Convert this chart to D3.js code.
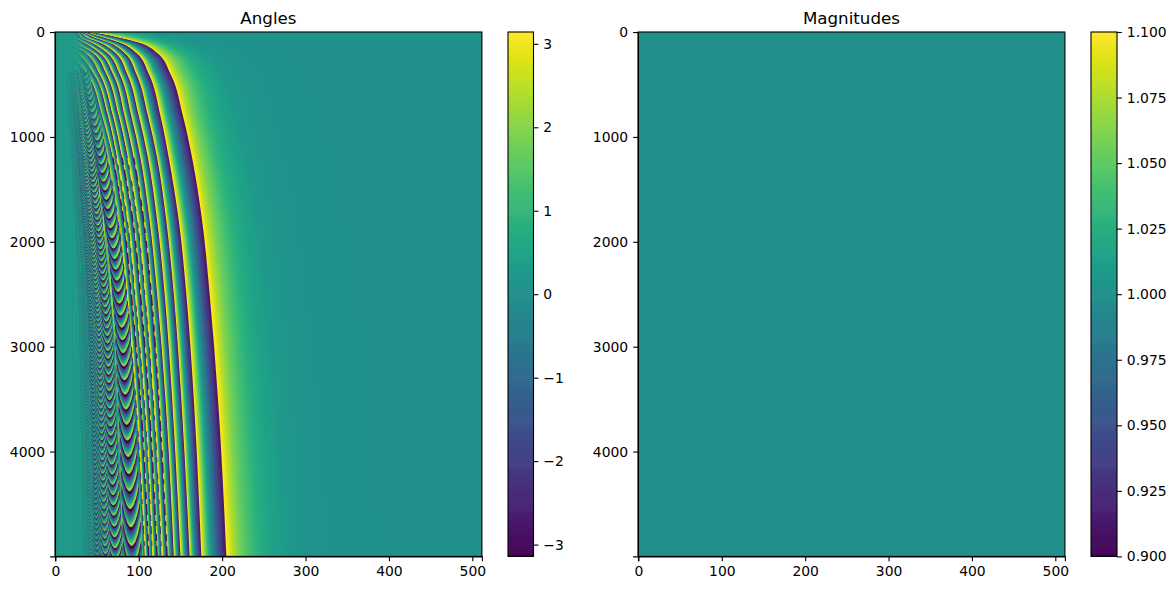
<!DOCTYPE html>
<html>
<head>
<meta charset="utf-8">
<script src="https://cdn.jsdelivr.net/npm/d3@7"></script>
<style>
  body { margin: 0; background: #fff; }
  svg, svg text, .tick text { font-family: "DejaVu Sans", sans-serif; }
  svg { display: block; }
  .tick text { font-size: 13.9px; fill: #000; }
  .tick line, .domain { stroke: #000; stroke-width: 1.1px; }
</style>
</head>
<body>
<div id="chart"></div>
<script>
// Values
const xTicks = [0, 100, 200, 300, 400, 500];
const yTicks = [0, 1000, 2000, 3000, 4000];
const angleTicks = [-3, -2, -1, 0, 1, 2, 3];
const magnitudeTicks = [0.9, 0.925, 0.95, 0.975, 1, 1.025, 1.05, 1.075, 1.1];
const magnitudeValue = 1;

// Wrap edges of the phase, column at each row, outermost fringe first
const fringeRows = [0, 20, 50, 100, 200, 400, 800, 1200, 1800, 2500, 3500, 5000];
const fringe0 = [40, 58, 75, 100, 122, 138, 153, 164, 176, 185, 195, 205];
const fringe1 = [36, 45, 57, 77, 97, 112, 126, 136, 148, 157, 166, 175];
const fringe2 = [32, 38, 46, 64, 83, 97, 111, 122, 133, 142, 151, 161];
const fringe3 = [28, 33, 37, 53, 72, 86, 100, 111, 122, 131, 140, 150];
const fringe4 = [24, 28, 30, 43, 62, 77, 91, 102, 113, 122, 132, 142];
const fringe5 = [14, 18, 22, 34, 53, 69, 83, 94, 106, 115, 124, 134];
const fringe6 = [6, 10, 15, 23, 45, 61, 76, 87, 99, 108, 118, 128];
const fringe7 = [0, 0, 8, 16, 36, 53, 69, 80, 93, 102, 112, 122];
const fringe8 = [0, 0, 0, 8, 26, 46, 63, 74, 87, 96, 107, 117];
const fringe9 = [0, 0, 0, 0, 16, 38, 56, 69, 82, 91, 102, 112];
const fringe10 = [0, 0, 0, 0, 8, 29, 50, 63, 76, 86, 97, 108];
const fringe11 = [0, 0, 0, 0, 0, 18, 43, 57, 71, 81, 92, 103];
const fringe12 = [0, 0, 0, 0, 0, 9, 36, 51, 66, 77, 88, 99];
const fringe13 = [0, 0, 0, 0, 0, 0, 28, 45, 61, 72, 84, 95];
const fringe14 = [0, 0, 0, 0, 0, 0, 18, 36, 56, 68, 80, 91];

// Where the ramp sits inside the two widest bands: yellow is narrow, purple is wide
const rampShare = [0, 0.25, 0.5, 0.75, 1];
const rampPlace = [0, 0.17, 0.38, 0.66, 1];

// Decay to the right of the outer fringe: phase level and where it is reached
const tailPhases = [3.14, 2.5, 2, 1.5, 1, 0.7, 0.4, 0.2, 0.1, 0.05, 0];
const tail25 = [44, 62, 79, 104, 126, 143, 158, 169, 181, 191, 201, 212];
const tail20 = [48, 66, 84, 108, 131, 148, 163, 174, 187, 197, 207, 218];
const tail15 = [54, 72, 90, 113, 137, 155, 170, 182, 195, 205, 215, 226];
const tail10 = [62, 80, 98, 121, 146, 165, 180, 192, 206, 216, 227, 238];
const tail07 = [70, 88, 106, 128, 154, 174, 190, 202, 216, 226, 237, 248];
const tail04 = [82, 100, 118, 139, 166, 186, 203, 215, 229, 239, 251, 262];
const tail02 = [98, 116, 134, 153, 182, 202, 220, 232, 247, 258, 270, 280];
const tail01 = [115, 133, 152, 170, 200, 220, 238, 250, 265, 276, 288, 298];
const tail005 = [135, 155, 175, 190, 222, 244, 265, 277, 292, 304, 318, 330];
const tail00 = [180, 200, 220, 240, 280, 310, 330, 345, 360, 375, 390, 400];

// Arch families in the left part: centre column, row spacing, half width
const archRows = [400, 800, 1220, 2080, 2843, 4000, 5000];
const archCols = [
  [35, 45, 54, 70, 80, 87, 92],
  [28, 35, 42, 54, 62, 67, 72],
  [23, 29, 35, 45, 52, 56, 60],
  [19, 24, 29, 38, 43, 47, 50],
  [16, 20, 24, 32, 36, 39, 42],
  [14, 17, 21, 27, 31, 33, 36]
];
const archSpacing = [
  [45, 65, 80, 100, 120, 160, 185],
  [27, 38, 47, 58, 70, 93, 107],
  [18, 26, 32, 40, 48, 64, 74],
  [13, 18, 22, 28, 34, 45, 52],
  [9, 13, 16, 20, 24, 32, 37],
  [7, 10, 12, 15, 18, 24, 28]
];
const archHalfWidth = [
  [5, 6, 7, 8, 9, 10, 11],
  [3, 4, 5, 5.5, 6, 7, 8],
  [2.5, 3, 3.5, 4, 4.5, 5, 5.5],
  [2, 2.5, 2.5, 3, 3.5, 3.5, 4],
  [1.5, 1.5, 2, 2, 2.5, 2.5, 3],
  [1, 1.5, 1.5, 1.5, 2, 2, 2]
];
// how strongly each family stands out, and how that grows along the rows
const archContrast = [1, 0.95, 0.8, 0.6, 0.35, 0.2];
const archFadeRows = [400, 900, 1500];
const archFade = [0.3, 0.7, 1];
const archTones = [0, 0.17, 0.33, 0.5, 0.67, 0.83];
const archU = [-1, -0.7, -0.4, -0.15, 0, 0.15, 0.4, 0.7, 1];
const archRise = 1.3;

// Low contrast left zone: column where each veil ends, and its opacity
const veilEdges = [
  [20, 20, 20, 20, 22, 24, 24, 22, 22, 24, 26, 28],
  [26, 26, 26, 28, 30, 32, 32, 32, 32, 36, 40, 42],
  [30, 30, 32, 34, 38, 42, 44, 48, 50, 54, 60, 64],
  [32, 34, 36, 40, 46, 52, 58, 68, 78, 84, 92, 98]
];
const veilOpacity = [1, 0.75, 0.5, 0.3];

// Fine texture at the far left, phase values of one small tile
const textureTile = [
  [0.3, 0.05, 0.5],
  [-0.05, 0.4, 0.15]
];

// Broken stripes over the inner fringes, dash lengths in pixels
const spikeDash = [7, 5, 11, 6, 5, 8];

const fringes = [fringe0, fringe1, fringe2, fringe3, fringe4, fringe5, fringe6, fringe7,
  fringe8, fringe9, fringe10, fringe11, fringe12, fringe13, fringe14];
const tails = [fringe0, tail25, tail20, tail15, tail10, tail07, tail04, tail02, tail01, tail005, tail00];

const chartWidth = 1176, chartHeight = 590;
const plotTop = 32, plotBottom = 556.4;
const panels = [
  { left: 55, right: 481.9, barLeft: 508, barRight: 533.5, title: 'Angles' },
  { left: 638, right: 1064.9, barLeft: 1091, barRight: 1117, title: 'Magnitudes' }
];

const svg = d3.select('#chart').append('svg')
  .attr('width', chartWidth).attr('height', chartHeight);

const phaseColor = d3.scaleSequential(d3.interpolateViridis).domain([-Math.PI, Math.PI]);
const magnitudeColor = d3.scaleSequential(d3.interpolateViridis).domain([0.9, 1.1]);

function xScale(p) { return d3.scaleLinear().domain([-0.5, 511.5]).range([p.left, p.right]); }
const yScale = d3.scaleLinear().domain([-0.5, 4999.5]).range([plotTop, plotBottom]);

function drawAxes(g, p) {
  const x = xScale(p);
  g.append('g').attr('transform', `translate(0,${plotBottom})`)
    .call(d3.axisBottom(x).tickValues(xTicks).tickSizeOuter(0).tickSize(4.9).tickPadding(4.9).tickFormat(d3.format('d')));
  g.append('g').attr('transform', `translate(${p.left},0)`)
    .call(d3.axisLeft(yScale).tickValues(yTicks).tickSizeOuter(0).tickSize(4.9).tickPadding(4.9).tickFormat(d3.format('d')));
  g.append('rect').attr('x', p.left).attr('y', plotTop)
    .attr('width', p.right - p.left).attr('height', plotBottom - plotTop)
    .attr('fill', 'none').attr('stroke', '#000').attr('stroke-width', 1.1);
  g.append('text').attr('x', (p.left + p.right) / 2).attr('y', 24)
    .attr('text-anchor', 'middle').attr('font-size', 16.7).text(p.title);
}

function drawColorbar(g, p, color, domain, ticks, format) {
  const scale = d3.scaleLinear().domain(domain).range([plotBottom, plotTop]);
  const steps = d3.range(0, 256);
  g.selectAll('rect.step').data(steps).enter().append('rect')
    .attr('class', 'step')
    .attr('x', p.barLeft).attr('width', p.barRight - p.barLeft)
    .attr('y', d => scale(domain[0] + (domain[1] - domain[0]) * (d + 1) / 256))
    .attr('height', (plotBottom - plotTop) / 256 + 0.6)
    .attr('fill', d => color(domain[0] + (domain[1] - domain[0]) * d / 255));
  g.append('g').attr('transform', `translate(${p.barRight},0)`)
    .call(d3.axisRight(scale).tickValues(ticks).tickSizeOuter(0).tickSize(4.9).tickPadding(4.9).tickFormat(format))
    .select('.domain').remove();
  g.append('rect').attr('x', p.barLeft).attr('y', plotTop)
    .attr('width', p.barRight - p.barLeft).attr('height', plotBottom - plotTop)
    .attr('fill', 'none').attr('stroke', '#000').attr('stroke-width', 1.1);
}

// Angles panel
const p0 = panels[0];
const x0 = xScale(p0);
const defs = svg.append('defs');
defs.append('clipPath').attr('id', 'plot-clip').append('rect')
  .attr('x', p0.left).attr('y', plotTop).attr('width', p0.right - p0.left).attr('height', plotBottom - plotTop);
const tile = defs.append('pattern').attr('id', 'texture').attr('patternUnits', 'userSpaceOnUse')
  .attr('width', textureTile[0].length).attr('height', textureTile.length);
textureTile.forEach((line, j) => line.forEach((v, i) => {
  tile.append('rect').attr('x', i).attr('y', j).attr('width', 1).attr('height', 1).attr('fill', phaseColor(v));
}));

const plot = svg.append('g').attr('clip-path', 'url(#plot-clip)');
plot.append('rect').attr('x', p0.left).attr('y', plotTop)
  .attr('width', p0.right - p0.left).attr('height', plotBottom - plotTop).attr('fill', 'url(#texture)');

// every tone is painted from its left edge to the plot's right edge, left to right
const toRight = d3.area()
  .y(d => yScale(d.row)).x0(d => x0(d.col)).x1(p0.right)
  .curve(d3.curveMonotoneY);

function paintStrip(a, b, t, fill) {
  const pts = fringeRows.map((row, i) => ({ row, col: a[i] + (b[i] - a[i]) * t }));
  plot.append('path').attr('d', toRight(pts)).attr('fill', fill);
}

// fringes, innermost first; inside a band yellow is on the left and purple on the right
const bandTones = 14;
const rampAt = d3.scaleLinear().domain(rampShare).range(rampPlace);
for (let n = fringes.length - 1; n > 0; n--) {
  d3.range(bandTones).forEach(j => {
    const t = j / bandTones;
    const place = n <= 2 ? rampAt(t) : t;
    paintStrip(fringes[n], fringes[n - 1], place, phaseColor(Math.PI - 2 * Math.PI * t));
  });
}

// tail after the outer fringe
for (let k = 0; k < tails.length - 1; k++) {
  d3.range(4).forEach(j => {
    const t = j / 4;
    paintStrip(tails[k], tails[k + 1], t, phaseColor(tailPhases[k] + (tailPhases[k + 1] - tailPhases[k]) * t));
  });
}
paintStrip(tails[tails.length - 1], tails[tails.length - 1], 0, phaseColor(0));

// broken bright and dark stripes on the inner fringes
const edgeLine = d3.line().y(d => yScale(d.row)).x(d => x0(d.col)).curve(d3.curveMonotoneY);
fringes.slice(5).forEach((edge, i) => {
  const pts = fringeRows.map((row, j) => ({ row, col: edge[j] })).filter(d => d.row >= 1200);
  plot.append('path').attr('d', edgeLine(pts)).attr('fill', 'none')
    .attr('stroke', phaseColor(i % 2 ? 2.8 : -2.8)).attr('stroke-width', 1.4)
    .attr('stroke-dasharray', spikeDash.join(' '));
});

// veils that pull the far left back to the low contrast texture
const fromLeft = d3.area()
  .y(d => yScale(d.row)).x0(p0.left).x1(d => x0(d.col)).curve(d3.curveMonotoneY);
veilEdges.slice().reverse().forEach((edge, i) => {
  plot.append('path')
    .attr('d', fromLeft(fringeRows.map((row, j) => ({ row, col: edge[j] }))))
    .attr('fill', 'url(#texture)')
    .attr('fill-opacity', veilOpacity[veilOpacity.length - 1 - i]);
});

// arch families over the fringes
const archArea = d3.area().x(d => x0(d.col)).y0(d => yScale(d.row)).y1(d => yScale(d.row + d.depth));
const fadeAt = d3.scaleLinear().domain(archFadeRows).range(archFade).clamp(true);
archCols.forEach((cols, f) => {
  const colAt = d3.scaleLinear().domain(archRows).range(cols);
  const spacingAt = d3.scaleLinear().domain(archRows).range(archSpacing[f]);
  const halfAt = d3.scaleLinear().domain(archRows).range(archHalfWidth[f]);
  const tones = f < 3 ? archTones : archTones.filter((d, i) => i % 2 === 0);
  let row = archRows[0];
  while (row < 5000 + spacingAt(5000) * archRise) {
    const s = spacingAt(Math.min(row, 5000));
    const c = colAt(Math.min(row, 5000));
    const w = halfAt(Math.min(row, 5000));
    tones.forEach(tone => {
      const fill = d3.interpolateRgb(phaseColor(0.25), d3.interpolateViridis(tone))(archContrast[f] * fadeAt(row));
      const pts = archU.map(u => ({
        col: c + u * w,
        row: row + tone * s - archRise * s * u * u,
        depth: s * 1.5
      }));
      plot.append('path').attr('d', archArea(pts)).attr('fill', fill);
    });
    row += s;
  }
});

const axes0 = svg.append('g');
drawAxes(axes0, p0);
drawColorbar(axes0, p0, phaseColor, [-Math.PI, Math.PI], angleTicks, d3.format('d'));

// Magnitudes panel, one constant value
const p1 = panels[1];
const axes1 = svg.append('g');
axes1.append('rect').datum(magnitudeValue)
  .attr('x', p1.left).attr('y', plotTop)
  .attr('width', p1.right - p1.left).attr('height', plotBottom - plotTop)
  .attr('fill', d => magnitudeColor(d));
drawAxes(axes1, p1);
drawColorbar(axes1, p1, magnitudeColor, [0.9, 1.1], magnitudeTicks, d3.format('.3f'));
</script>
</body>
</html>
